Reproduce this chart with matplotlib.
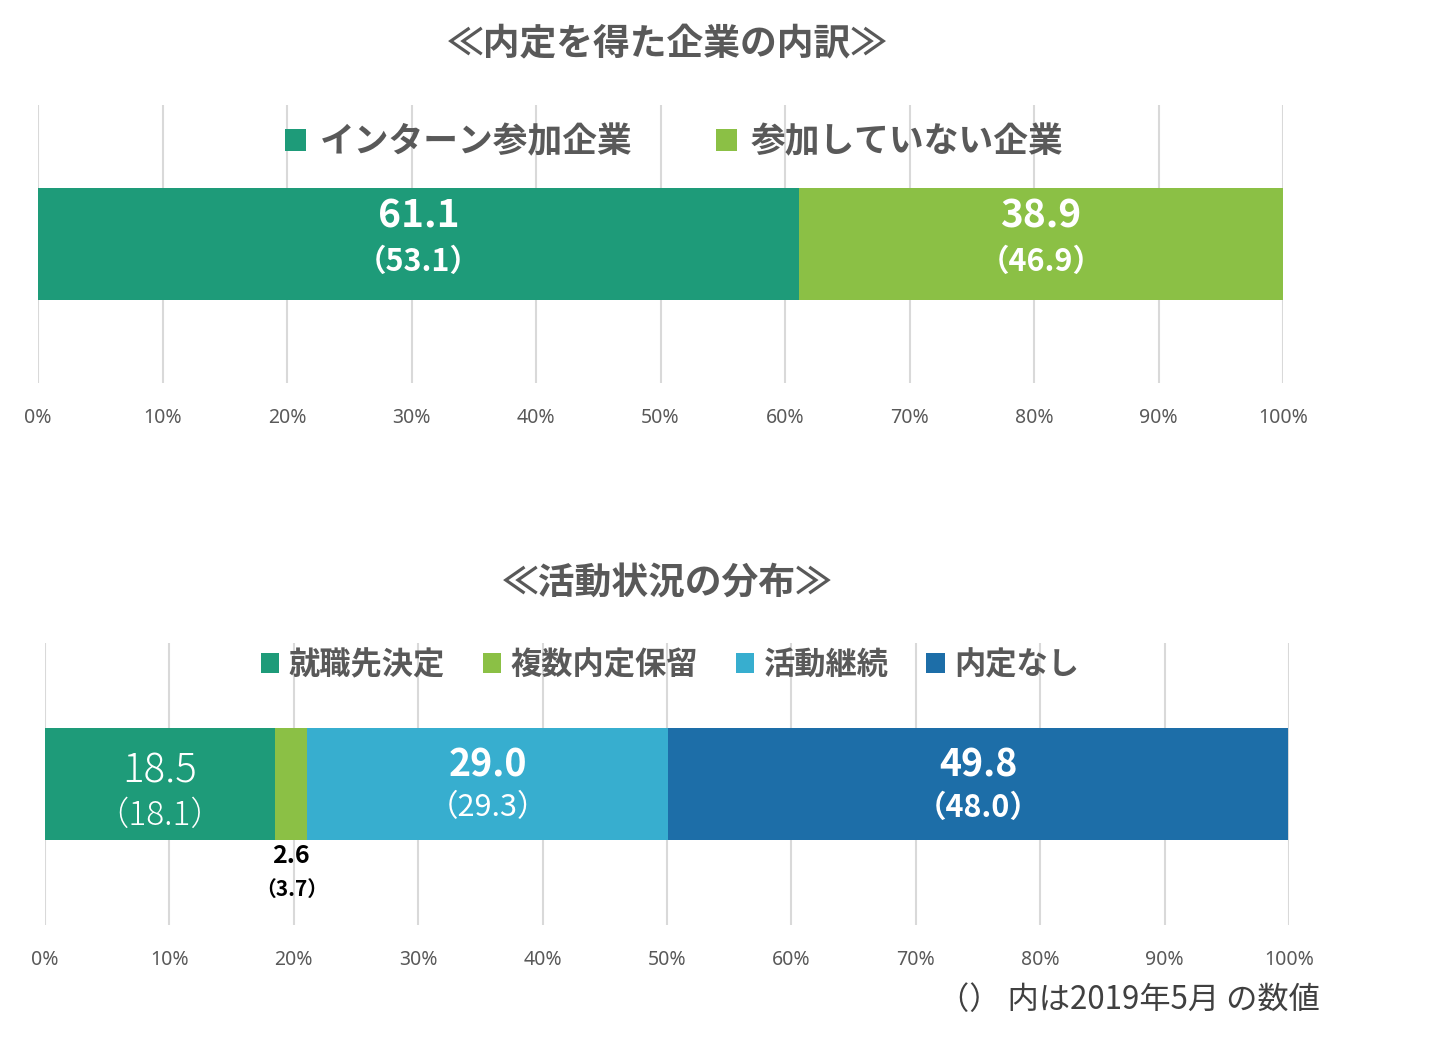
import matplotlib
matplotlib.use("Agg")
import matplotlib.pyplot as plt
from matplotlib.ticker import FixedLocator

plt.rcParams["font.family"] = ["Noto Sans CJK JP", "DejaVu Sans"]

# data
top_title = "≪内定を得た企業の内訳≫"
top_categories = ["インターン参加企業", "参加していない企業"]
top_values = [61.1, 38.9]
top_prev = [53.1, 46.9]

bottom_title = "≪活動状況の分布≫"
bottom_categories = ["就職先決定", "複数内定保留", "活動継続", "内定なし"]
bottom_values = [18.5, 2.6, 29.0, 49.8]
bottom_prev = [18.1, 3.7, 29.3, 48.0]

ticks = [0, 10, 20, 30, 40, 50, 60, 70, 80, 90, 100]
tick_labels = ["%d%%" % t for t in ticks]
note = "（） 内は2019年5月 の数値"

top_colors = ["#1E9B79", "#8BC045"]
bottom_colors = ["#1E9B79", "#8BC045", "#37AECF", "#1D6EA8"]
grey = "#595959"

W, H = 1441, 1051
fig = plt.figure(figsize=(W / 100, H / 100), dpi=100)


def px_axes(left, right, top, bottom):
    return fig.add_axes([left / W, 1 - bottom / H, (right - left) / W, (bottom - top) / H])


def setup(ax):
    ax.set_xlim(0, 100)
    ax.set_ylim(0, 1)
    ax.xaxis.set_major_locator(FixedLocator(ticks))
    ax.set_xticklabels(tick_labels, fontsize=14, color=grey, family=["Noto Sans", "DejaVu Sans"])
    ax.tick_params(axis="x", length=0, pad=18)
    ax.set_yticks([])
    for s in ax.spines.values():
        s.set_visible(False)
    ax.grid(axis="x", color="#D9D9D9", linewidth=1.5)
    ax.set_axisbelow(True)


# top chart
ax1 = px_axes(38, 1283, 105, 383)
setup(ax1)
left = 0
bars1 = []
for cat, v, p, c in zip(top_categories, top_values, top_prev, top_colors):
    b = ax1.barh(0.5, v, left=left, height=0.4, color=c, label=cat)
    bars1.append(b)
    mid = left + v / 2
    ax1.annotate("%.1f" % v, (mid, 0.5), xytext=(0, 20), textcoords="offset points",
                 ha="center", va="center", color="white", fontsize=28, fontweight="bold")
    ax1.annotate("（%.1f）" % p, (mid, 0.5), xytext=(0, -13), textcoords="offset points",
                 ha="center", va="center", color="white", fontsize=22, fontweight="bold")
    left += v

fig.text(667 / W, 1 - 45 / H, top_title, ha="center", va="center",
         fontsize=26.5, fontweight="bold", color=grey)
fig.legend(handles=bars1, loc="center", bbox_to_anchor=(674 / W, 1 - 142 / H), ncol=2,
           frameon=False, handlelength=0.6, handleheight=0.6, handletextpad=0.4,
           columnspacing=2.4, prop={"size": 25, "weight": "bold"}, labelcolor=grey)

# bottom chart
ax2 = px_axes(45, 1289, 643, 925)
setup(ax2)
left = 0
bars2 = []
for cat, v, c in zip(bottom_categories, bottom_values, bottom_colors):
    b = ax2.barh(0.5, v, left=left, height=0.4, color=c, label=cat)
    bars2.append(b)
    left += v

for i, (v, p) in enumerate(zip(bottom_values, bottom_prev)):
    mid = sum(bottom_values[:i]) + v / 2
    if i == 0:
        ax2.annotate("%.1f" % v, (mid, 0.5), xytext=(0, 9), textcoords="offset points",
                     ha="center", va="center", color="white", fontsize=29, fontweight="light")
        ax2.annotate("（%.1f）" % p, (mid, 0.5), xytext=(0, -23), textcoords="offset points",
                     ha="center", va="center", color="white", fontsize=24, fontweight="light")
    elif i == 1:
        ax2.annotate("%.1f" % v, (mid, 0.3), xytext=(0, -11), textcoords="offset points",
                     ha="center", va="center", color="black", fontsize=18, fontweight="bold")
        ax2.annotate("（%.1f）" % p, (mid, 0.3), xytext=(0, -35), textcoords="offset points",
                     ha="center", va="center", color="black", fontsize=15, fontweight="bold")
    else:
        ax2.annotate("%.1f" % v, (mid, 0.5), xytext=(0, 14), textcoords="offset points",
                     ha="center", va="center", color="white", fontsize=27, fontweight="bold")
        ax2.annotate("（%.1f）" % p, (mid, 0.5), xytext=(0, -17), textcoords="offset points",
                     ha="center", va="center", color="white", fontsize=22,
                     fontweight="bold" if i == 3 else "normal")

fig.text(667 / W, 1 - 583 / H, bottom_title, ha="center", va="center",
         fontsize=26.5, fontweight="bold", color=grey)
fig.legend(handles=bars2, loc="center", bbox_to_anchor=(670 / W, 1 - 665 / H), ncol=4,
           frameon=False, handlelength=0.6, handleheight=0.6, handletextpad=0.3,
           columnspacing=1.2, prop={"size": 22.5, "weight": "bold"}, labelcolor=grey)

fig.text(1320 / W, 1 - 1000 / H, note, ha="right", va="center", fontsize=22.5, color="#404040")

fig.savefig("out.png", dpi=100)
